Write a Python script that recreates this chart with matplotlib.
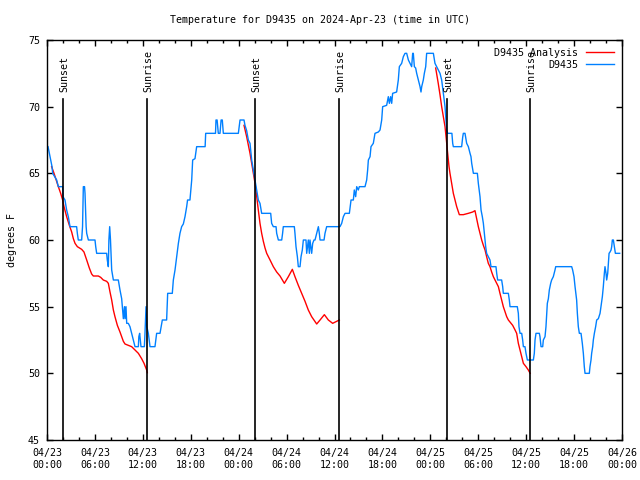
import matplotlib.pyplot as plt
import numpy as np

plt.rcParams['font.family'] = 'DejaVu Sans Mono'

nan = float('nan')

# hours since 04/23 00:00 UTC
station_hours = [0.13, 0.38, 0.63, 0.71, 1.21, 1.42, 1.96, 2.0, 2.25, 2.46, 2.67, 2.88, 3.71, 3.8, 3.92,
                 4.34, 4.45, 4.55, 4.7, 4.76, 4.9, 4.97, 5.18, 6.01, 6.1, 6.22, 7.47, 7.55, 7.68, 7.75,
                 7.85, 7.95, 8.05, 8.1, 8.31, 8.93, 9.14, 9.35, 9.56, 9.7, 9.77, 9.89, 9.98, 10.18, 10.39,
                 10.6, 10.81, 11.02, 11.44, 11.5, 11.6, 11.77, 12.19, 12.27, 12.4, 12.5, 12.69, 12.9,
                 13.52, 13.73, 14.15, 14.3, 14.44, 14.98, 15.11, 15.69, 15.82, 16.03, 16.24, 16.45,
                 16.65, 16.86, 17.07, 17.28, 17.49, 17.6, 17.9, 18.12, 18.24, 18.53, 18.74, 19.8, 19.87,
                 21.1, 21.16, 21.3, 21.45, 21.66, 21.8, 21.95, 22.08, 23.96, 24.17, 24.67, 24.79, 25.0,
                 25.21, 25.42, 25.63, 25.84, 26.05, 26.26, 26.46, 26.67, 26.88, 28.01, 28.13, 28.34,
                 28.68, 28.76, 28.97, 29.39, 29.5, 29.59, 30.97, 31.05, 31.18, 31.35, 31.47, 31.68,
                 31.81, 31.97, 32.1, 32.43, 32.52, 32.72, 32.85, 32.93, 33.14, 33.27, 33.43, 33.56,
                 33.77, 33.98, 34.1, 34.19, 34.69, 34.81, 35.02, 36.69, 36.9, 37.11, 37.32, 37.86,
                 38.07, 38.36, 38.48, 38.65, 38.78, 38.98, 39.11, 39.82, 40.03, 40.15, 40.24, 40.45,
                 40.57, 40.86, 41.07, 41.49, 41.7, 41.91, 42.03, 42.53, 42.74, 42.87, 43.03, 43.16,
                 43.28, 43.78, 43.99, 44.12, 44.41, 44.62, 44.83, 45.04, 45.25, 45.45, 45.66, 45.79,
                 45.87, 46.0, 46.16, 46.29, 46.5, 46.71, 46.83, 46.92, 47.12, 47.25, 47.42, 47.54,
                 48.38, 48.58, 48.79, 49.0, 49.21, 49.42, 49.63, 49.84, 49.96, 50.05, 50.17, 50.7,
                 50.8, 50.88, 51.92, 52.05, 52.13, 52.34, 52.55, 52.76, 52.97, 53.09, 53.18, 53.39,
                 53.89, 54.01, 54.22, 54.35, 54.51, 54.64, 54.76, 54.85, 54.93, 55.05, 55.26, 55.47,
                 55.6, 56.22, 56.31, 56.43, 56.93, 57.06, 57.14, 57.77, 57.89, 57.98, 58.89, 59.02,
                 59.1, 59.23, 59.44, 59.56, 59.65, 59.85, 59.98, 60.15, 60.9, 61.02, 61.11, 61.23,
                 61.65, 61.73, 61.86, 62.07, 62.15, 62.36, 62.48, 62.57, 62.65, 62.78, 62.9, 63.07,
                 63.19, 63.4, 63.61, 63.7, 65.7, 65.82, 65.99, 66.12, 66.32, 66.41, 66.53, 66.66,
                 66.87, 67.03, 67.16, 67.28, 67.37, 67.91, 67.99, 68.12, 68.2, 68.33, 68.41, 68.54,
                 68.7, 68.83, 69.04, 69.25, 69.37, 69.54, 69.66, 69.79, 69.87, 70.0, 70.08, 70.21,
                 70.38, 70.5, 70.63, 70.71, 70.79, 70.92, 71.04, 71.17, 71.71]
station_temps = [67, 66.25, 65.5, 65, 64.5, 64, 64, 63.25, 63, 62.25, 61.75, 61, 61, 60.5, 60,
                 60, 61, 64, 64, 63.5, 61, 60.5, 60, 60, 59.5, 59, 59, 58.5, 58, 60,
                 61, 60, 58.5, 57.75, 57, 57, 56.25, 55.6, 54.1, 55, 54.1, 55, 53.75, 53.75, 53.5,
                 53, 52.5, 52, 52, 52.75, 53, 52, 52, 53, 55, 53.5, 53, 52,
                 52, 53, 53, 53.5, 54, 54, 56, 56, 57, 57.75, 58.75, 59.75,
                 60.5, 61, 61.2, 61.75, 62.5, 63, 63, 64.5, 66, 66.1, 67, 67, 68,
                 68, 69, 69, 68, 68, 69, 69, 68, 68, 69, 69, 68.6, 68.2,
                 67.5, 67.25, 66, 65.25, 64.5, 63.75, 63, 62.75, 62, 62, 61.25, 61,
                 61, 60.5, 60, 60, 60.5, 61, 61, 60.5, 59.5, 58.75, 58, 58,
                 58.75, 59.25, 60, 60, 59, 60, 59, 60, 59, 59.75, 60, 60,
                 60.5, 61, 60.5, 60, 60, 60.5, 61, 61, 61.25, 61.75, 62, 62,
                 63, 63, 63.75, 63.25, 64, 63.75, 64, 64, 64.5, 65.25, 66, 66.25,
                 67, 67.25, 68, 68.1, 68.25, 69, 70, 70.1, 70.75, 70.25, 70.75, 70.25,
                 71, 71.1, 72, 73, 73.25, 73.75, 74, 74, 73.5, 73.25, 73, 74,
                 74, 73, 72.9, 72.5, 72, 71.5, 71.1, 71.5, 72, 72.5, 73, 74,
                 74, 73.25, 73, 72.75, 72.5, 72, 71, 70, 69, 68.2, 68, 68,
                 67.25, 67, 67, 67.7, 68, 68, 67.25, 67, 66.5, 66.25, 65.75, 65,
                 65, 64.25, 63.25, 62.25, 61.75, 61.25, 60.5, 60, 59.5, 59, 58.75, 58.5,
                 58, 58, 57.5, 57, 57, 56.5, 56, 56, 55.5, 55, 55, 54.5,
                 53.5, 53, 53, 52.5, 52, 52, 51.5, 51, 51, 51.5, 52.5, 53,
                 53, 52.75, 52, 52, 52.5, 52.75, 53.5, 54.5, 55.25, 55.6, 56.25, 56.75,
                 57, 57.25, 57.75, 58, 58, 57.75, 57.25, 56.5, 55.5, 54.5, 53.5, 53,
                 53, 52.25, 51.5, 50.5, 50, 50, 50.5, 51, 51.5, 52, 52.5, 53,
                 53.5, 54, 54.1, 54.5, 55, 55.75, 56.5, 57.5, 58, 57.5, 57, 57.5,
                 59, 59.1, 59.25, 59.5, 60, 60, 59.5, 59, 59]

analysis_hours = [0.58, 0.88, 1.42, 1.71, 1.96, 2.13, 2.46, 2.8, 3.09, 3.3, 3.51, 3.8, 4.34, 4.63, 4.97,
                  5.3, 5.59, 5.8, 6.43, 6.72, 7.05, 7.47, 7.68, 7.89, 8.1, 8.31, 8.51, 8.81, 9.14, 9.56,
                  9.77, 10.18, 10.6, 11.02, 11.44, 11.85, 12.15, 12.48, 12.56, nan,
                  24.67, 25.0, 25.42, 25.84, 26.05, 26.26, 26.46, 26.67, 26.88, 27.09, 27.3, 27.51,
                  27.72, 27.93, 28.34, 28.76, 29.18, 29.72, 30.22, 30.72, 31.05, 31.47, 31.89, 32.31,
                  32.72, 33.14, 33.77, 34.19, 34.73, 35.23, 35.77, 36.27, 36.6, nan,
                  48.67, 48.99, 49.21, 49.42, 49.63, 49.84, 50.05, 50.17, 50.34, 50.46, 50.67, 50.88,
                  51.09, 51.3, 51.63, 52.13, 52.76, 53.3, 53.59, 53.8, 54.01, 54.22, 54.43, 54.64,
                  54.85, 55.05, 55.26, 55.47, 55.68, 55.89, 56.31, 56.52, 56.72, 56.93, 57.14, 57.56,
                  57.77, 58.31, 58.61, 58.81, 59.02, 59.23, 59.44, 59.65, 59.98, 60.27, 60.5]
analysis_temps = [65.5, 65, 64, 63.5, 63, 62.5, 61.75, 61.1, 60.6, 60.1, 59.75, 59.5, 59.3, 59.1, 58.5,
                  57.9, 57.45, 57.3, 57.3, 57.2, 57.0, 56.9, 56.75, 56.1, 55.5, 54.75, 54.25, 53.6, 53.1, 52.4,
                  52.2, 52.1, 52.0, 51.75, 51.5, 51.1, 50.75, 50.25, 50.05, nan,
                  68.6, 67.75, 66.5, 65.0, 64.25, 63.25, 62.25, 61.25, 60.5, 59.9, 59.4, 59.0,
                  58.75, 58.5, 58.0, 57.6, 57.3, 56.75, 57.25, 57.8, 57.25, 56.6, 56.0, 55.4,
                  54.75, 54.25, 53.7, 54.0, 54.4, 54.0, 53.75, 53.9, 54.0, nan,
                  72.9, 71.75, 70.9, 70.0, 69.25, 68.5, 67.25, 66.5, 65.5, 65.0, 64.25, 63.5,
                  63.0, 62.5, 61.9, 61.9, 62.0, 62.1, 62.2, 61.6, 61.0, 60.5, 60.0, 59.6,
                  59.25, 58.75, 58.25, 58.0, 57.6, 57.25, 56.75, 56.5, 56.0, 55.5, 55.0, 54.25,
                  54.0, 53.6, 53.25, 53.0, 52.25, 51.75, 51.25, 50.75, 50.5, 50.25, 50.0]

sun_hours = [2.04, 12.56, 26.08, 36.6, 50.12, 60.5]
sun_labels = ['Sunset', 'Sunrise', 'Sunset', 'Sunrise', 'Sunset', 'Sunrise']

tick_hours = list(range(0, 73, 6))
tick_labels = ['04/23\n00:00', '04/23\n06:00', '04/23\n12:00', '04/23\n18:00',
               '04/24\n00:00', '04/24\n06:00', '04/24\n12:00', '04/24\n18:00',
               '04/25\n00:00', '04/25\n06:00', '04/25\n12:00', '04/25\n18:00',
               '04/26\n00:00']

fs = 7.2
fig = plt.figure(figsize=(6.4, 4.8), dpi=100)
ax = fig.add_axes([47/640, 40/480, 575/640, 400/480])

ax.plot(analysis_hours, analysis_temps, color='#ff0000', lw=1.0, label='D9435 Analysis')
ax.plot(station_hours, station_temps, color='#0080ff', lw=1.0, label='D9435')

for h, lab in zip(sun_hours, sun_labels):
    ax.plot([h, h], [45, 70.6], color='black', lw=1.2)
    ax.text(h + 0.1, 71.1, lab, rotation=90, ha='center', va='bottom', fontsize=fs)

ax.set_xlim(0, 72)
ax.set_ylim(45, 75)
ax.set_xticks(tick_hours)
ax.set_xticklabels(tick_labels, fontsize=fs)
ax.set_xticks(range(0, 73, 2), minor=True)
ax.set_yticks(range(45, 76, 5))
ax.tick_params(axis='y', labelsize=fs, pad=5)
ax.tick_params(axis='x', pad=6)
ax.tick_params(which='major', direction='in', top=True, right=True, length=4, width=1)
ax.tick_params(which='minor', direction='in', top=True, right=True, length=2, width=1)
for s in ax.spines.values():
    s.set_linewidth(1)

ax.set_ylabel('degrees F', fontsize=fs, labelpad=8)
fig.text(0.5, 1 - 20/480, 'Temperature for D9435 on 2024-Apr-23 (time in UTC)',
         ha='center', va='center', fontsize=fs)

ax.legend(loc='upper right', frameon=False, markerfirst=False, fontsize=fs,
          handlelength=2.8, handletextpad=0.8, labelspacing=0.2, borderaxespad=0.6,
          borderpad=0.2)

fig.savefig('out.png', dpi=100)
